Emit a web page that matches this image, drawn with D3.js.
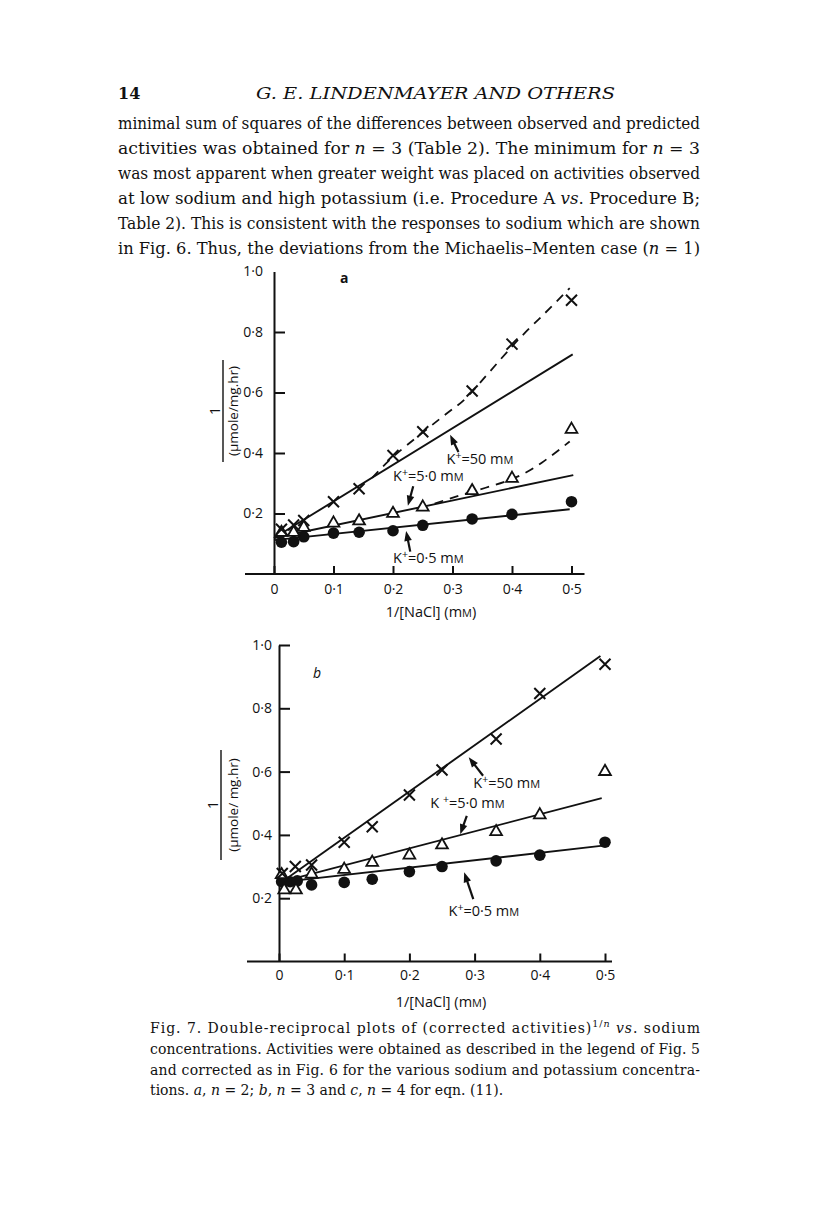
<!DOCTYPE html>
<html>
<head>
<meta charset="utf-8">
<script src="https://cdn.jsdelivr.net/npm/d3@7"></script>
<style>
  html, body { margin: 0; padding: 0; background: #fff; }
  svg { display: block; }
</style>
</head>
<body>
<svg id="page" width="816" height="1211"></svg>
<script>
// ----------------------------------------
// Fig. 7 — double-reciprocal plots (a, b)
// ----------------------------------------

// ---- values ----
const xTicks = [0, 0.1, 0.2, 0.3, 0.4, 0.5];
const yTicks = [0.2, 0.4, 0.6, 0.8, 1.0];

// panel a (n = 2)
const aX    = [0.0125, 0.033, 0.05, 0.1, 0.143, 0.2, 0.25, 0.333, 0.4, 0.5];
const aK50  = [0.148, 0.162, 0.177, 0.239, 0.282, 0.392, 0.47, 0.605, 0.76, 0.905];
const aK5   = [0.137, 0.137, 0.154, 0.168, 0.175, 0.2, 0.221, 0.275, 0.316, 0.478];
const aK05  = [0.105, 0.107, 0.123, 0.135, 0.138, 0.143, 0.161, 0.182, 0.197, 0.239];
const aFitK50 = [[0, 0.119], [0.502, 0.726]];
const aFitK5  = [[0, 0.119], [0.503, 0.327]];
const aFitK05 = [[0, 0.112], [0.497, 0.214]];
const aCurveK50 = [[0.165, 0.318], [0.2, 0.387], [0.25, 0.468], [0.3, 0.545], [0.333, 0.603],
                   [0.4, 0.752], [0.45, 0.852], [0.497, 0.945]];
const aCurveK5  = [[0.27, 0.233], [0.333, 0.272], [0.4, 0.314], [0.45, 0.368], [0.497, 0.438]];

// panel b (n = 3)
const bX    = [0.005, 0.025, 0.05, 0.1, 0.143, 0.2, 0.25, 0.333, 0.4, 0.5];
const bK50  = [0.278, 0.30, 0.305, 0.377, 0.426, 0.526, 0.605, 0.703, 0.847, 0.939];
const bK5X  = [0.004, 0.008, 0.026, 0.05, 0.1, 0.143, 0.2, 0.25, 0.333, 0.4, 0.5];
const bK5   = [0.274, 0.226, 0.226, 0.276, 0.291, 0.313, 0.336, 0.368, 0.41, 0.463, 0.6];
const bK05X = [0.004, 0.017, 0.028, 0.05, 0.1, 0.143, 0.2, 0.25, 0.333, 0.4, 0.5];
const bK05  = [0.252, 0.252, 0.255, 0.242, 0.25, 0.26, 0.284, 0.3, 0.318, 0.336, 0.377];
const bFitK50 = [[0, 0.245], [0.493, 0.965]];
const bFitK5  = [[0, 0.25], [0.495, 0.516]];
const bFitK05 = [[0, 0.25], [0.497, 0.366]];

// ---- page text ----
const pageNo = '14';
const runningHead = 'G. E. LINDENMAYER AND OTHERS';
const bodyLines = [
  [['minimal sum of squares of the differences between observed and predicted']],
  [['activities was obtained for '], ['n', 1], [' = 3 (Table 2). The minimum for '], ['n', 1], [' = 3']],
  [['was most apparent when greater weight was placed on activities observed']],
  [['at low sodium and high potassium (i.e. Procedure A '], ['vs', 1], ['. Procedure B;']],
  [['Table 2). This is consistent with the responses to sodium which are shown']],
  [['in Fig. 6. Thus, the deviations from the Michaelis\u2013Menten case ('], ['n', 1], [' = 1)']]
];
const captionLines = [
  [['Fig. 7. Double-reciprocal plots of (corrected activities)'], ['1/', 0, 1], ['n', 1, 1], [' '], ['vs', 1], ['. sodium']],
  [['concentrations. Activities were obtained as described in the legend of Fig. 5']],
  [['and corrected as in Fig. 6 for the various sodium and potassium concentra-']],
  [['tions. '], ['a', 1], [', '], ['n', 1], [' = 2; '], ['b', 1], [', '], ['n', 1], [' = 3 and '], ['c', 1], [', '], ['n', 1], [' = 4 for eqn. (11).']]
];

const ink = '#111';
const serif = '"DejaVu Serif", "Liberation Serif", serif';
const sans = '"Open Sans", "DejaVu Sans", sans-serif';

const svg = d3.select('#page');
svg.append('rect').attr('width', 816).attr('height', 1211).attr('fill', '#fff');

const fmt = v => v === 0 ? '0' : d3.format('.1f')(v).replace('.', '\u00b7');

// ---- running head + body text ----
svg.append('text')
  .attr('x', 118).attr('y', 99)
  .attr('font-family', serif).attr('font-size', 16).attr('font-weight', 'bold')
  .attr('fill', ink).text(pageNo);

svg.append('text')
  .attr('x', 256).attr('y', 99)
  .attr('font-family', serif).attr('font-size', 16).attr('font-style', 'italic')
  .attr('textLength', 359).attr('lengthAdjust', 'spacingAndGlyphs')
  .attr('fill', ink).text(runningHead);

function richLine(parent, segs, x, y, size, width, adjust) {
  const t = parent.append('text')
    .attr('x', x).attr('y', y)
    .attr('font-family', serif).attr('font-size', size)
    .attr('fill', ink);
  if (width) t.attr('textLength', width).attr('lengthAdjust', adjust);
  segs.forEach((s, i) => {
    const ts = t.append('tspan').text(s[0]);
    if (s[1]) ts.attr('font-style', 'italic');
    if (s[2]) {
      ts.attr('font-size', size * 0.68);
      if (!(segs[i - 1] || [])[2]) ts.attr('dy', -6);
    } else if (i > 0 && segs[i - 1][2]) {
      ts.attr('dy', 6);
    }
  });
  return t;
}

bodyLines.forEach((segs, i) => richLine(svg, segs, 118, 129 + i * 25, 16, 582, 'spacingAndGlyphs'));
captionLines.forEach((segs, i) => richLine(svg, segs, 150, 1033 + i * 20.8, 14, i < 3 ? 550 : null, 'spacing'));

// ---- marks ----
function cross(g, px, py) {
  g.append('path')
    .attr('d', `M${px - 5.5},${py - 5.5}L${px + 5.5},${py + 5.5}M${px - 5.5},${py + 5.5}L${px + 5.5},${py - 5.5}`)
    .attr('stroke', ink).attr('stroke-width', 2).attr('fill', 'none');
}
const triSym = d3.symbol(d3.symbolTriangle, 60);
function triangle(g, px, py) {
  g.append('path').attr('d', triSym())
    .attr('transform', `translate(${px},${py})`)
    .attr('fill', '#fff').attr('stroke', ink).attr('stroke-width', 1.8);
}
function dot(g, px, py) {
  g.append('circle').attr('cx', px).attr('cy', py).attr('r', 5.8).attr('fill', ink);
}

function arrow(g, x1, y1, x2, y2) {
  const dx = x2 - x1, dy = y2 - y1, L = Math.hypot(dx, dy);
  const ux = dx / L, uy = dy / L, hl = 10, hw = 3.8;
  const bx = x2 - ux * hl, by = y2 - uy * hl;
  g.append('line').attr('x1', x1).attr('y1', y1).attr('x2', bx + ux * 2).attr('y2', by + uy * 2)
    .attr('stroke', ink).attr('stroke-width', 2.2);
  g.append('path')
    .attr('d', `M${x2},${y2}L${bx - uy * hw},${by + ux * hw}L${bx + uy * hw},${by - ux * hw}Z`)
    .attr('fill', ink);
}

function kLabel(g, px, py, val, gap) {
  const t = g.append('text').attr('x', px).attr('y', py)
    .attr('font-family', sans).attr('font-size', 14.5).attr('fill', ink);
  t.append('tspan').text(gap ? 'K ' : 'K');
  t.append('tspan').text('+').attr('font-size', 10.5).attr('dy', -5);
  t.append('tspan').text('=' + val + ' m').attr('dy', 5);
  t.append('tspan').text('M').attr('font-size', 11);
}

function drawPanel(cfg) {
  const x = d3.scaleLinear().domain([0, 0.5]).range(cfg.xr);
  const y = d3.scaleLinear().domain([0, 1]).range(cfg.yr);
  const g = svg.append('g');

  // x axis (runs a little past both ends)
  g.append('line')
    .attr('x1', cfg.xr[0] - cfg.axL).attr('x2', cfg.xr[1] + cfg.axR)
    .attr('y1', y(0)).attr('y2', y(0))
    .attr('stroke', ink).attr('stroke-width', 2);
  const xa = g.append('g').attr('transform', `translate(0,${y(0)})`)
    .call(d3.axisBottom(x).tickValues(xTicks).tickFormat(fmt)
      .tickSizeInner(-8).tickSizeOuter(0).tickPadding(cfg.xpad));
  xa.select('.domain').remove();
  xa.attr('font-family', sans).attr('font-size', 14);
  xa.selectAll('line').attr('stroke', ink).attr('stroke-width', 2);
  xa.selectAll('text').attr('fill', ink);

  // y axis, ticks pointing in
  const ya = g.append('g').attr('transform', `translate(${x(0)},0)`)
    .call(d3.axisLeft(y).tickValues(yTicks).tickFormat(fmt)
      .tickSizeInner(-11).tickSizeOuter(0).tickPadding(cfg.ypad));
  ya.attr('font-family', sans).attr('font-size', 14);
  ya.select('.domain').attr('stroke', ink).attr('stroke-width', 2);
  ya.selectAll('line').attr('stroke', ink).attr('stroke-width', 2);
  ya.selectAll('text').attr('fill', ink);
  if (cfg.noTopTick) ya.selectAll('.tick').filter(d => d === 1).select('line').remove();

  // axis title
  const xt = g.append('text')
    .attr('x', cfg.xTitle[0]).attr('y', cfg.xTitle[1]).attr('text-anchor', 'middle')
    .attr('font-family', sans).attr('font-size', 14.5).attr('fill', ink);
  xt.append('tspan').text('1/[NaCl] (m');
  xt.append('tspan').text('M').attr('font-size', 11);
  xt.append('tspan').text(')');

  // y label as a fraction, turned on its side
  const yl = g.append('g').attr('transform', `translate(${cfg.yLab[0]},${cfg.yLab[1]}) rotate(-90)`);
  yl.append('line').attr('x1', -cfg.yLab[2] / 2).attr('x2', cfg.yLab[2] / 2)
    .attr('stroke', ink).attr('stroke-width', 1.4);
  yl.append('text').attr('y', -3).attr('text-anchor', 'middle')
    .attr('font-family', sans).attr('font-size', 14).attr('fill', ink).text('1');
  yl.append('text').attr('y', cfg.yLab[3]).attr('text-anchor', 'middle')
    .attr('font-family', sans).attr('font-size', 13.5).attr('fill', ink).text(cfg.unit);

  // panel letter
  g.append('text').attr('x', x(cfg.letter[1])).attr('y', y(cfg.letter[2]))
    .attr('font-family', sans).attr('font-size', 14).attr('font-weight', cfg.letter[3] || 'normal')
    .attr('font-style', cfg.letter[4] || 'normal')
    .attr('fill', ink).text(cfg.letter[0]);

  // fitted straight lines
  const line = d3.line().x(d => x(d[0])).y(d => y(d[1]));
  cfg.fits.forEach(f => g.append('path').attr('d', line(f))
    .attr('fill', 'none').attr('stroke', ink).attr('stroke-width', 1.9));

  // dashed curves
  const curve = d3.line().x(d => x(d[0])).y(d => y(d[1])).curve(d3.curveNatural);
  (cfg.curves || []).forEach(c => g.append('path').attr('d', curve(c))
    .attr('fill', 'none').attr('stroke', ink).attr('stroke-width', 1.8)
    .attr('stroke-dasharray', '9,7'));

  // points
  cfg.k05x.forEach((v, i) => dot(g, x(v), y(cfg.k05[i])));
  cfg.k5x.forEach((v, i) => triangle(g, x(v), y(cfg.k5[i])));
  cfg.k50x.forEach((v, i) => cross(g, x(v), y(cfg.k50[i])));

  // labels + arrows
  cfg.notes.forEach(n => {
    kLabel(g, x(n.at[0]), y(n.at[1]), n.t, n.gap);
    arrow(g, x(n.from[0]), y(n.from[1]), x(n.to[0]), y(n.to[1]));
  });
}

drawPanel({
  xr: [274, 571.5], yr: [574, 271.5], axL: 29, axR: 13, xpad: 10, ypad: 11, noTopTick: true,
  xTitle: [431, 617], yLab: [223, 411, 102, 15], unit: '(\u03bcmole/mg.hr)',
  letter: ['a', 0.111, 0.962, 'bold'],
  k50x: aX, k50: aK50, k5x: aX, k5: aK5, k05x: aX, k05: aK05,
  fits: [aFitK50, aFitK5, aFitK05], curves: [aCurveK50, aCurveK5],
  notes: [
    { t: '50',  at: [0.29, 0.362],  from: [0.31, 0.403],  to: [0.296, 0.46] },
    { t: '5\u00b70', at: [0.2, 0.307], from: [0.234, 0.29], to: [0.225, 0.226] },
    { t: '0\u00b75', at: [0.2, 0.038],  from: [0.229, 0.074], to: [0.222, 0.142] }
  ]
});

drawPanel({
  xr: [279, 605], yr: [961.5, 645], axL: 32, axR: 7, xpad: 8.5, ypad: 7,
  xTitle: [441, 1007], yLab: [221, 805, 110, 17], unit: '(\u03bcmole/ mg.hr)',
  letter: ['b', 0.052, 0.895, 'normal', 'italic'],
  k50x: bX, k50: bK50, k5x: bK5X, k5: bK5, k05x: bK05X, k05: bK05,
  fits: [bFitK50, bFitK5, bFitK05],
  notes: [
    { t: '50',  at: [0.298, 0.548], from: [0.313, 0.587], to: [0.291, 0.645] },
    { t: '5\u00b70', at: [0.232, 0.484], from: [0.288, 0.46], to: [0.278, 0.402], gap: true },
    { t: '0\u00b75', at: [0.26, 0.145], from: [0.298, 0.197], to: [0.284, 0.282] }
  ]
});
</script>
</body>
</html>
